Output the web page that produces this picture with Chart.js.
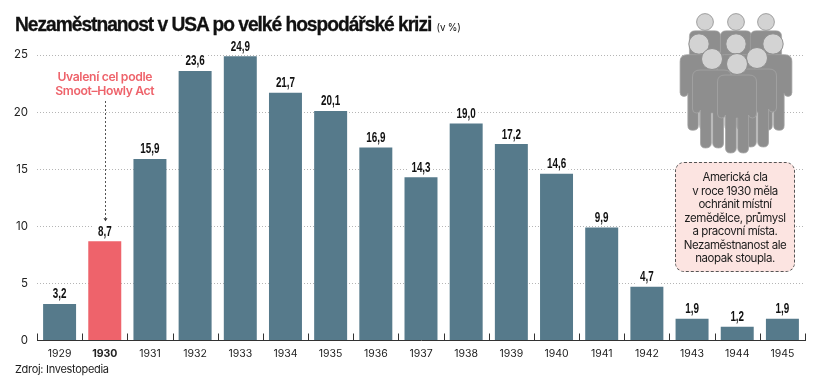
<!DOCTYPE html>
<html lang="cs">
<head>
    <meta charset="UTF-8">
    <title>Nezaměstnanost v USA</title>
    <script src="https://cdn.jsdelivr.net/npm/chart.js"></script>
    <style>
        html, body { margin: 0; padding: 0; background: #fff; }
        #wrap { position: relative; width: 820px; height: 386px; overflow: hidden; font-family: Inter, sans-serif; color: #1c1c1c; }
        canvas { position: absolute; left: 0; top: 0; }
        #title { position: absolute; left: 15px; top: 11px; font-family: "Liberation Sans", sans-serif; font-size: 20.5px; font-weight: 700; letter-spacing: -1.1px; color: #111; white-space: nowrap; line-height: 26px; transform: scaleX(0.937); transform-origin: left top; -webkit-text-stroke: 0.3px #111; }
        #title span { font-family: Inter, sans-serif; font-size: 10.5px; font-weight: 400; letter-spacing: -0.2px; margin-left: 1px; -webkit-text-stroke: 0; }
        #source { position: absolute; left: 15px; top: 362px; font-size: 11px; letter-spacing: -0.3px; line-height: 14px; }
        #note { position: absolute; left: 675px; top: 162px; width: 120px; height: 110px; box-sizing: border-box; background: #fce4e1; border: 1px dashed #555; border-radius: 9px; padding-top: 8px; text-align: center; font-size: 11.5px; line-height: 13.5px; letter-spacing: -0.45px; white-space: nowrap; }
        #people { position: absolute; left: 660px; top: 0; }
    </style>
</head>
<body>
<div id="wrap">
    <canvas id="chart" width="820" height="386"></canvas>
    <div id="title">Nezaměstnanost v USA po velké hospodářské krizi <span>(v %)</span></div>
    <div id="source">Zdroj: Investopedia</div>
    <svg id="people" width="160" height="160" viewBox="660 0 160 160">
        <defs>
            <g id="person">
                <path d="M-12 11 H12 Q19.500 11 19.500 18 V50 Q19.500 54 15.500 54 Q12 54 11.500 51 V84 Q11.500 89 6.500 89 Q0.700 89 0.700 84 V54 H-0.700 V84 Q-0.700 89 -6.500 89 Q-11.500 89 -11.500 84 V51 Q-12 54 -15.500 54 Q-19.500 54 -19.500 50 V18 Q-19.500 11 -12 11 Z" fill="#8e8e8e" stroke="#a5a5a5" stroke-width="0.8"/>
                <circle cx="0" cy="0" r="10.500" fill="#d3d3d3" stroke="#8e8e8e" stroke-width="1"/>
            </g>
        </defs>
        <use href="#person" transform="translate(705 22) scale(0.8)"/>
        <use href="#person" transform="translate(736 22) scale(0.8)"/>
        <use href="#person" transform="translate(766 22) scale(0.8)"/>
        <use href="#person" transform="translate(699 44) scale(0.97)"/>
        <use href="#person" transform="translate(773 44) scale(0.97)"/>
        <use href="#person" transform="translate(736 44) scale(0.97)"/>
        <use href="#person" transform="translate(712 59)"/>
        <use href="#person" transform="translate(757 58)"/>
        <use href="#person" transform="translate(737 64)"/>
    </svg>
    <div id="note">Americká cla<br>v roce 1930 měla<br>ochránit místní<br>zemědělce, průmysl<br>a pracovní místa.<br>Nezaměstnanost ale<br>naopak stoupla.</div>
</div>
<script>
    const years = ['1929', '1930', '1931', '1932', '1933', '1934', '1935', '1936', '1937', '1938', '1939', '1940', '1941', '1942', '1943', '1944', '1945'];
    const unemployment = [3.2, 8.7, 15.9, 23.6, 24.9, 21.7, 20.1, 16.9, 14.3, 19.0, 17.2, 14.6, 9.9, 4.7, 1.9, 1.2, 1.9];
    const yTicks = [0, 5, 10, 15, 20, 25];
    const highlightYear = '1930';
    const annotationLines = ['Uvalení cel podle', 'Smoot–Howly Act'];

    const BLUE = '#567a8b';
    const RED = '#ee636b';
    const UI_FONT = 'Inter, sans-serif';

    // value labels, category separators and the Smoot-Hawley note
    const extras = {
        id: 'extras',
        afterDatasetsDraw(chart) {
            const { ctx, scales: { x, y } } = chart;
            const step = x.getPixelForTick(1) - x.getPixelForTick(0);
            ctx.save();

            ctx.strokeStyle = '#333';
            ctx.lineWidth = 1;
            for (let i = 0; i <= years.length; i++) {
                const px = Math.round(x.getPixelForTick(0) + (i - 0.5) * step) + 0.5;
                ctx.beginPath();
                ctx.moveTo(px, y.bottom);
                ctx.lineTo(px, y.bottom - 7);
                ctx.stroke();
            }

            ctx.textAlign = 'center';
            ctx.textBaseline = 'alphabetic';
            unemployment.forEach((v, i) => {
                const px = x.getPixelForTick(i);
                const py = y.getPixelForValue(v);
                ctx.fillStyle = '#fff';
                ctx.fillRect(px - 12, py - 18, 24, 16);
                // no condensed face installed, so squeeze the bold one
                ctx.save();
                ctx.translate(px, py - 5.5);
                ctx.scale(0.68, 1);
                ctx.font = 'bold 14.5px "Liberation Sans", sans-serif';
                ctx.fillStyle = '#111';
                ctx.fillText(v.toFixed(1).replace('.', ','), 0, 0);
                ctx.restore();
            });

            const hx = x.getPixelForTick(years.indexOf(highlightYear));
            ctx.fillStyle = RED;
            ctx.font = '600 12.2px ' + UI_FONT;
            ctx.letterSpacing = '-0.35px';
            annotationLines.forEach((line, i) => ctx.fillText(line, hx, 81 + i * 13.5));
            ctx.letterSpacing = '0px';

            const arrowEnd = y.getPixelForValue(unemployment[years.indexOf(highlightYear)]) - 21;
            ctx.strokeStyle = '#555';
            ctx.setLineDash([2, 2]);
            ctx.beginPath();
            ctx.moveTo(Math.round(hx) + 0.5, 101);
            ctx.lineTo(Math.round(hx) + 0.5, arrowEnd - 2);
            ctx.stroke();
            ctx.setLineDash([]);
            ctx.fillStyle = '#333';
            ctx.beginPath();
            ctx.moveTo(Math.round(hx) + 0.5, arrowEnd + 1);
            ctx.lineTo(Math.round(hx) - 1.5, arrowEnd - 2);
            ctx.lineTo(Math.round(hx) + 2.5, arrowEnd - 2);
            ctx.closePath();
            ctx.fill();
            ctx.restore();
        }
    };

    new Chart(document.getElementById('chart'), {
        type: 'bar',
        data: {
            labels: years,
            datasets: [{
                data: unemployment,
                backgroundColor: years.map(yr => yr === highlightYear ? RED : BLUE),
                barPercentage: 1,
                categoryPercentage: 0.73
            }]
        },
        options: {
            responsive: false,
            animation: false,
            layout: { padding: { top: 55, right: 15, bottom: 0, left: 0 } },
            plugins: { legend: { display: false }, tooltip: { enabled: false } },
            scales: {
                x: {
                    grid: { display: false, drawTicks: false },
                    border: { display: true, color: '#333', width: 1 },
                    afterFit: scale => { scale.height = 45.5; },
                    ticks: {
                        padding: 7,
                        autoSkip: false,
                        maxRotation: 0,
                        color: '#222',
                        font: ctx => ({
                            family: UI_FONT,
                            size: 10.5,
                            weight: years[ctx.index] === highlightYear ? '700' : '400'
                        })
                    }
                },
                y: {
                    min: 0,
                    max: 25,
                    afterBuildTicks: scale => { scale.ticks = yTicks.map(value => ({ value })); },
                    afterFit: scale => { scale.width = 37; },
                    border: { display: false, dash: [1, 2] },
                    grid: {
                        drawTicks: false,
                        color: ctx => ctx.tick.value === 0 ? 'rgba(0,0,0,0)' : '#b5b5b5',
                        lineWidth: 1
                    },
                    ticks: {
                        padding: 9,
                        color: '#222',
                        font: { family: UI_FONT, size: 11.5 }
                    }
                }
            }
        },
        plugins: [extras]
    });
</script>
</body>
</html>
